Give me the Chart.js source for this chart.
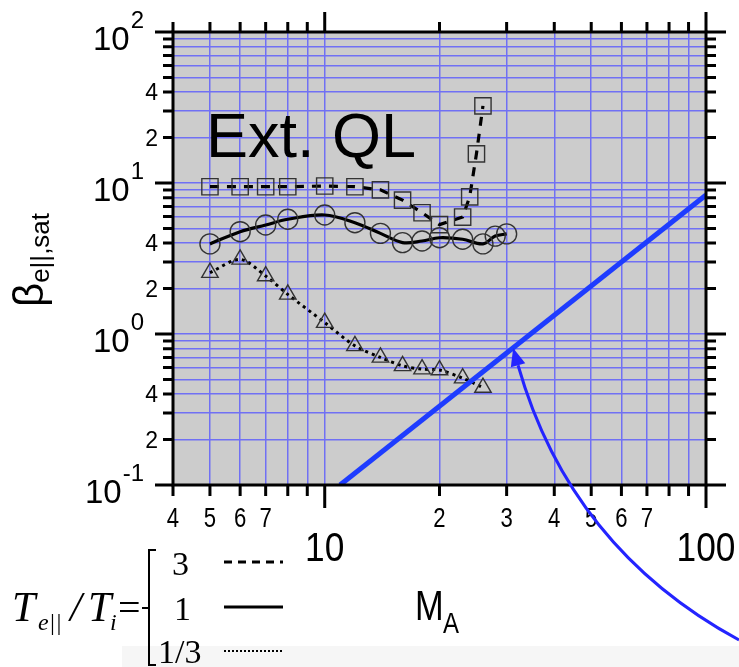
<!DOCTYPE html>
<html>
<head>
<meta charset="utf-8">
<script src="https://cdn.jsdelivr.net/npm/chart.js@4.4.1/dist/chart.umd.min.js"></script>
<style>
  html, body { margin: 0; padding: 0; background: #fff; }
  canvas { display: block; }
</style>
</head>
<body>
<canvas id="chart" width="739" height="667"></canvas>
<script>
// Te||/Ti = 3 (squares, dashed)
const squareX = [5, 6, 7, 8, 10, 12, 14, 16, 18, 20, 23, 24, 25, 26];
const squareY = [9.45, 9.45, 9.45, 9.45, 9.55, 9.45, 9.0, 7.7, 6.35, 5.3, 5.95, 8.1, 15.6, 32.4];
// Te||/Ti = 1 (circles, solid)
const circleX = [5, 6, 7, 8, 10, 12, 14, 16, 18, 20, 23, 26, 28, 30];
const circleY = [3.95, 4.76, 5.27, 5.75, 6.14, 5.46, 4.64, 4.03, 4.13, 4.34, 4.24, 3.95, 4.45, 4.6];
// Te||/Ti = 1/3 (triangles, dotted)
const triangleX = [5, 6, 7, 8, 10, 12, 14, 16, 18, 20, 23, 26];
const triangleY = [2.55, 3.12, 2.42, 1.83, 1.19, 0.835, 0.7, 0.615, 0.585, 0.577, 0.51, 0.442];
// blue reference line
const slopeX = [10.97, 100];
const slopeY = [0.1, 8.33];

// axis ticks / labels
const xTicks = [4, 5, 6, 7, 8, 9, 10, 20, 30, 40, 50, 60, 70, 80, 90, 100];
const xMajor = [10, 100];
const xSmallLabels = { 4: '4', 5: '5', 6: '6', 7: '7', 20: '2', 30: '3', 40: '4', 50: '5', 60: '6', 70: '7' };
const xBigLabels = { 10: '10', 100: '100' };
const yTicks = [0.1, 0.2, 0.3, 0.4, 0.5, 0.6, 0.7, 0.8, 0.9, 1, 2, 3, 4, 5, 6, 7, 8, 9,
                10, 20, 30, 40, 50, 60, 70, 80, 90, 100];
const yMajor = [0.1, 1, 10, 100];
const yExpLabels = { 0.1: '-1', 1: '0', 10: '1', 100: '2' };
const ySmallLabels = { 0.2: '2', 0.4: '4', 2: '2', 4: '4', 20: '2', 40: '4' };

const gridColor = '#7070f4';
const pts = (xs, ys) => xs.map((x, i) => ({ x: x, y: ys[i] }));

function txt(ctx, str, px, py, font, align, sx) {
    ctx.save();
    ctx.font = font;
    ctx.textAlign = align;
    ctx.textBaseline = 'alphabetic';
    ctx.translate(px, py);
    ctx.scale(sx || 1, 1);
    ctx.fillText(str, 0, 0);
    ctx.restore();
}

const decor = {
    id: 'decor',
    beforeDraw(chart) {
        const { ctx, chartArea: a } = chart;
        ctx.save();
        ctx.fillStyle = '#f6f6f6';
        ctx.fillRect(122, 646, 617, 21);
        ctx.fillStyle = '#cccccc';
        ctx.fillRect(a.left, a.top, a.right - a.left, a.bottom - a.top);
        ctx.restore();
    },
    afterDraw(chart) {
        const { ctx, chartArea: a, scales: { x, y } } = chart;
        ctx.save();
        ctx.fillStyle = '#000';
        ctx.strokeStyle = '#000';
        ctx.lineWidth = 3;

        // frame + ticks on all sides
        ctx.strokeRect(a.left, a.top, a.right - a.left, a.bottom - a.top);
        ctx.beginPath();
        xTicks.forEach(v => {
            const px = x.getPixelForValue(v);
            const major = xMajor.includes(v);
            ctx.moveTo(px, a.bottom);
            ctx.lineTo(px, a.bottom + (major ? 23 : 11));
            ctx.moveTo(px, a.top);
            ctx.lineTo(px, a.top - (major ? 20 : 10));
        });
        yTicks.forEach(v => {
            const py = y.getPixelForValue(v);
            const major = yMajor.includes(v);
            ctx.moveTo(a.left, py);
            ctx.lineTo(a.left - (major ? 18 : 10), py);
            ctx.moveTo(a.right, py);
            ctx.lineTo(a.right + (major ? 20 : 10), py);
        });
        ctx.stroke();

        // x tick labels
        Object.keys(xSmallLabels).forEach(k => {
            txt(ctx, xSmallLabels[k], x.getPixelForValue(+k), a.bottom + 42, '27px "Liberation Sans"', 'center', 0.82);
        });
        Object.keys(xBigLabels).forEach(k => {
            txt(ctx, xBigLabels[k], x.getPixelForValue(+k), a.bottom + 76, '41px "Liberation Sans"', 'center', 0.86);
        });

        // y tick labels
        Object.keys(yExpLabels).forEach(k => {
            const py = y.getPixelForValue(+k);
            ctx.font = '24px "Liberation Sans"';
            const w = ctx.measureText(yExpLabels[k]).width;
            txt(ctx, yExpLabels[k], 144, py - 4, '24px "Liberation Sans"', 'right');
            txt(ctx, '10', 143 - w, py + 18, '33px "Liberation Sans"', 'right');
        });
        Object.keys(ySmallLabels).forEach(k => {
            txt(ctx, ySmallLabels[k], 158, y.getPixelForValue(+k) + 8, '23px "Liberation Sans"', 'right');
        });

        // y title
        ctx.save();
        ctx.translate(43, 307);
        ctx.rotate(-Math.PI / 2);
        ctx.font = '42px "Liberation Sans"';
        ctx.textAlign = 'left';
        ctx.fillText('β', 0, 0);
        const bw = ctx.measureText('β').width;
        ctx.font = '26px "Liberation Sans"';
        ctx.fillText('e||,sat', bw, 6);
        ctx.restore();

        // x title
        txt(ctx, 'M', 415, 620, '43px "Liberation Sans"', 'left', 0.8);
        txt(ctx, 'A', 443, 633, '30px "Liberation Sans"', 'left', 0.8);

        // in-plot label
        txt(ctx, 'Ext. QL', 206, 157, '63px "Liberation Sans"', 'left');

        // legend for Te||/Ti
        txt(ctx, 'T', 12, 621, 'italic 42px "Liberation Serif"', 'left');
        txt(ctx, 'e||', 38, 630, 'italic 24px "Liberation Serif"', 'left');
        txt(ctx, '/', 70, 621, 'italic 42px "Liberation Serif"', 'left');
        txt(ctx, 'T', 88, 621, 'italic 42px "Liberation Serif"', 'left');
        txt(ctx, 'i', 110, 630, 'italic 24px "Liberation Serif"', 'left');
        txt(ctx, '=', 118, 621, '40px "Liberation Serif"', 'left');
        ctx.lineWidth = 2;
        ctx.beginPath();
        ctx.moveTo(156, 550); ctx.lineTo(149, 550); ctx.lineTo(149, 665); ctx.lineTo(156, 665);
        ctx.moveTo(142, 608); ctx.lineTo(149, 608);
        ctx.stroke();
        txt(ctx, '3', 172, 575, '34px "Liberation Serif"', 'left');
        txt(ctx, '1', 174, 620, '34px "Liberation Serif"', 'left');
        txt(ctx, '1/3', 158, 663, '34px "Liberation Serif"', 'left');
        ctx.lineWidth = 3;
        ctx.setLineDash([8, 6]);
        ctx.beginPath(); ctx.moveTo(224, 562); ctx.lineTo(283, 562); ctx.stroke();
        ctx.setLineDash([]);
        ctx.beginPath(); ctx.moveTo(224, 607); ctx.lineTo(283, 607); ctx.stroke();
        ctx.lineWidth = 2;
        ctx.setLineDash([2, 2]);
        ctx.beginPath(); ctx.moveTo(224, 651); ctx.lineTo(283, 651); ctx.stroke();
        ctx.setLineDash([]);

        // arrow pointing at the blue line
        const tipX = x.getPixelForValue(31.2), tipY = y.getPixelForValue(0.1 * Math.pow(31.2 / 10.97, 2));
        const cx = 570, cy = 548;
        const dx = tipX - cx, dy = tipY - cy, len = Math.hypot(dx, dy);
        const ux = dx / len, uy = dy / len;
        const bx = tipX - ux * 18, by = tipY - uy * 18;
        ctx.strokeStyle = '#2424ff';
        ctx.fillStyle = '#2424ff';
        ctx.lineWidth = 3;
        ctx.beginPath();
        ctx.moveTo(739, 640);
        ctx.quadraticCurveTo(cx, cy, bx, by);
        ctx.stroke();
        ctx.beginPath();
        ctx.moveTo(tipX, tipY);
        ctx.lineTo(bx - uy * 7.5, by + ux * 7.5);
        ctx.lineTo(bx + uy * 7.5, by - ux * 7.5);
        ctx.closePath();
        ctx.fill();
        ctx.restore();
    }
};

new Chart(document.getElementById('chart').getContext('2d'), {
    type: 'line',
    data: {
        datasets: [{
            label: 'slope',
            data: pts(slopeX, slopeY),
            borderColor: '#1e3cff',
            borderWidth: 5,
            pointRadius: 0
        }, {
            label: '3',
            data: pts(squareX, squareY),
            borderColor: '#000',
            borderWidth: 3.2,
            borderDash: [9, 8],
            tension: 0,
            pointStyle: 'rect',
            pointRadius: 11.5,
            pointBorderColor: '#333',
            pointBackgroundColor: 'rgba(0,0,0,0)',
            pointBorderWidth: 1.4
        }, {
            label: '1',
            data: pts(circleX, circleY),
            borderColor: '#000',
            borderWidth: 3.2,
            tension: 0.35,
            pointStyle: 'circle',
            pointRadius: 10,
            pointBorderColor: '#333',
            pointBackgroundColor: 'rgba(0,0,0,0)',
            pointBorderWidth: 1.4
        }, {
            label: '1/3',
            data: pts(triangleX, triangleY),
            borderColor: '#000',
            borderWidth: 3,
            borderDash: [3, 4],
            tension: 0.3,
            pointStyle: 'triangle',
            pointRadius: 9.5,
            pointBorderColor: '#333',
            pointBackgroundColor: 'rgba(0,0,0,0)',
            pointBorderWidth: 1.4
        }]
    },
    options: {
        responsive: false,
        animation: false,
        layout: {
            padding: { left: 173, right: 33, top: 32, bottom: 182 }
        },
        plugins: {
            legend: { display: false },
            tooltip: { enabled: false }
        },
        scales: {
            x: {
                type: 'logarithmic',
                min: 4,
                max: 100,
                afterBuildTicks: s => { s.ticks = xTicks.map(v => ({ value: v })); },
                ticks: { display: false },
                grid: { color: gridColor, lineWidth: 1.5, drawTicks: false },
                border: { display: false }
            },
            y: {
                type: 'logarithmic',
                min: 0.1,
                max: 100,
                afterBuildTicks: s => { s.ticks = yTicks.map(v => ({ value: v })); },
                ticks: { display: false },
                grid: { color: gridColor, lineWidth: 1.5, drawTicks: false },
                border: { display: false }
            }
        }
    },
    plugins: [decor]
});
</script>
</body>
</html>
